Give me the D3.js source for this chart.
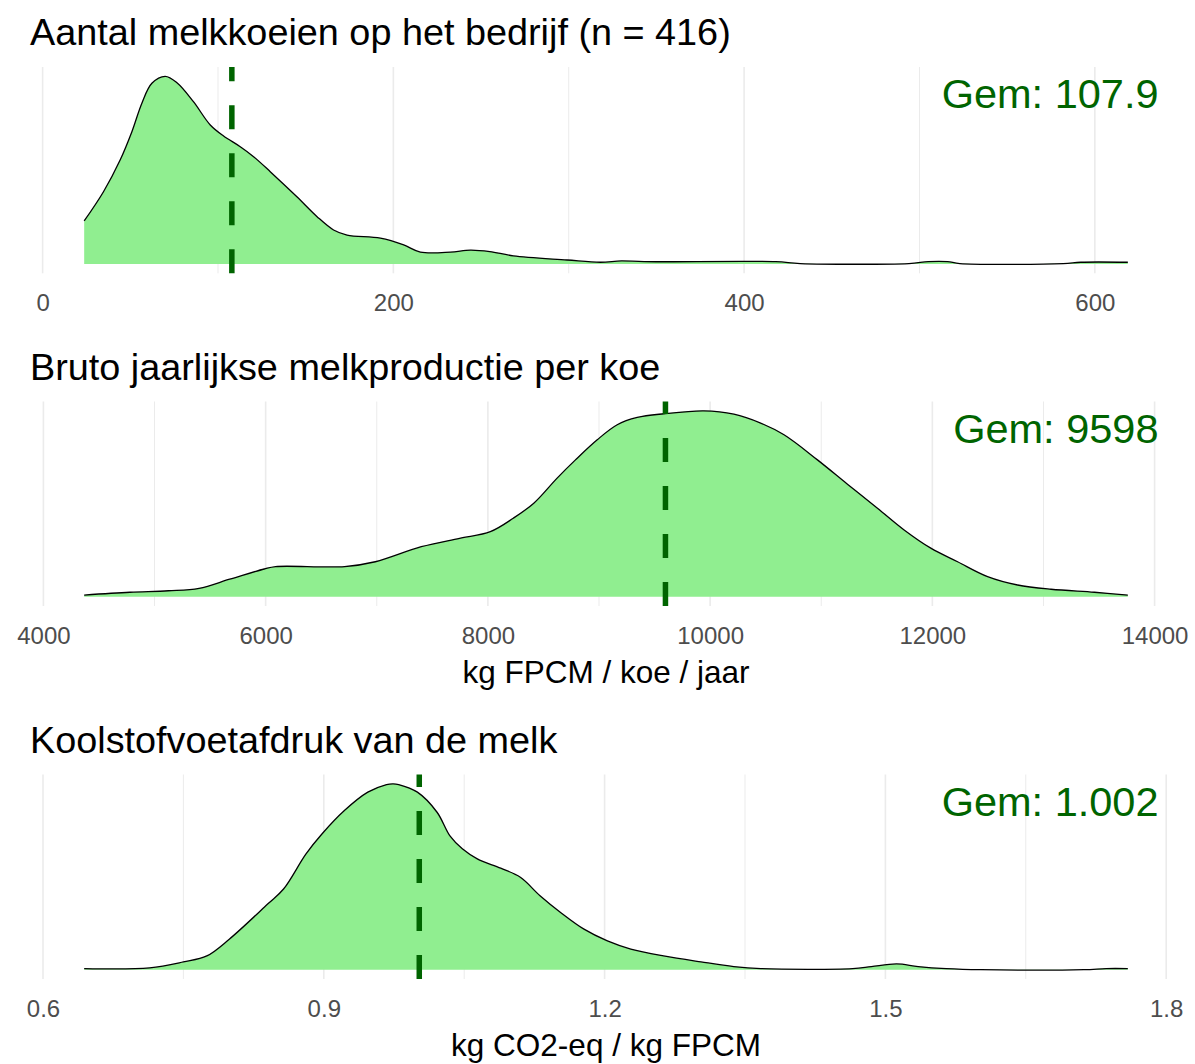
<!DOCTYPE html>
<html>
<head>
<meta charset="utf-8">
<title>melkvee dichtheden</title>
<script src="https://cdn.jsdelivr.net/npm/d3@7"></script>
<style>
body{ margin:0; background:#fff; }
svg{ display:block; font-family:"Liberation Sans", Arial, sans-serif; }
.grid line{ stroke:#EBEBEB; }
.tick text{ fill:#4D4D4D; font-size:24px; }
.ptitle{ font-size:37.8px; fill:#000; }
.xtitle{ font-size:31.5px; fill:#000; text-anchor:middle; }
.gem{ font-size:41.5px; fill:#006400; text-anchor:end; }
.dens{ fill:#90EE90; }
.outline{ fill:none; stroke:#000; stroke-width:1.3; }
.meanline{ stroke:#006400; stroke-width:5.5; stroke-dasharray:24,24; }
</style>
</head>
<body>
<svg id="chart"></svg>
<script>
// ---- data (density scaled so the peak = 1) ----
var titles = ["Aantal melkkoeien op het bedrijf (n = 416)",
	"Bruto jaarlijkse melkproductie per koe",
	"Koolstofvoetafdruk van de melk"];
var xTitles = [null, "kg FPCM / koe / jaar", "kg CO2-eq / kg FPCM"];

var cowsX = [23.7, 34.7, 44.2, 50.9, 56.6, 62.3, 69.9, 76.6, 86.0, 95.6, 103.2, 112.7, 120.3, 129.8, 145.0, 156.5, 165.9, 173.6, 192.6, 205.9, 215.4, 232.5, 243.9, 255, 268.4, 299, 318, 330, 343, 418, 432, 494, 505, 516, 523, 582, 592, 618.8];
var cowsDens = [0.229, 0.385, 0.554, 0.705, 0.857, 0.963, 1.0, 0.966, 0.865, 0.741, 0.682, 0.625, 0.572, 0.492, 0.358, 0.252, 0.181, 0.154, 0.137, 0.101, 0.063, 0.063, 0.074, 0.066, 0.043, 0.021, 0.009, 0.016, 0.012, 0.012, 0.002, 0.002, 0.012, 0.012, 0.002, 0.002, 0.009, 0.009];
var cowsMean = 107.9;
var cowsTicks = [0, 200, 400, 600];
var cowsTickLabels = ["0", "200", "400", "600"];
var cowsMinor = [100, 300, 500];

var milkX = [4367, 4779, 5125, 5401, 5677, 5987, 6090, 6711, 6987, 7401, 7745, 8022, 8228, 8413, 8623, 8788, 8984, 9164, 9344, 9584, 9944, 10214, 10455, 10665, 10966, 11236, 11506, 11746, 11986, 12227, 12497, 12767, 13068, 13458, 13759];
var milkDens = [0.009, 0.024, 0.032, 0.045, 0.094, 0.149, 0.162, 0.162, 0.188, 0.269, 0.314, 0.350, 0.422, 0.503, 0.638, 0.736, 0.844, 0.925, 0.964, 0.984, 1.0, 0.982, 0.934, 0.871, 0.736, 0.605, 0.476, 0.359, 0.261, 0.188, 0.108, 0.063, 0.040, 0.024, 0.009];
var milkMean = 9598;
var milkTicks = [4000, 6000, 8000, 10000, 12000, 14000];
var milkTickLabels = ["4000", "6000", "8000", "10000", "12000", "14000"];
var milkMinor = [5000, 7000, 9000, 11000, 13000];

var co2X = [0.644, 0.714, 0.750, 0.775, 0.799, 0.840, 0.857, 0.881, 0.898, 0.922, 0.947, 0.967, 0.974, 0.980, 1.000, 1.021, 1.035, 1.048, 1.064, 1.089, 1.110, 1.131, 1.153, 1.178, 1.203, 1.228, 1.263, 1.303, 1.338, 1.367, 1.465, 1.485, 1.512, 1.535, 1.565, 1.602, 1.712, 1.736, 1.759];
var co2Dens = [0.006, 0.010, 0.042, 0.074, 0.164, 0.353, 0.434, 0.623, 0.730, 0.856, 0.955, 0.996, 1.0, 0.996, 0.955, 0.847, 0.718, 0.650, 0.596, 0.546, 0.497, 0.398, 0.308, 0.218, 0.155, 0.111, 0.074, 0.042, 0.017, 0.006, 0.006, 0.017, 0.031, 0.017, 0.006, 0.0, 0.0, 0.006, 0.006];
var co2Mean = 1.002;
var co2Ticks = [0.6, 0.9, 1.2, 1.5, 1.8];
var co2TickLabels = ["0.6", "0.9", "1.2", "1.5", "1.8"];
var co2Minor = [0.75, 1.05, 1.35, 1.65];

var meanLabels = ["Gem: 107.9", "Gem: 9598", "Gem: 1.002"];

// ---- layout ----
var width = 1195, height = 1064;
var left = 32, right = 1180;
var panelTops = [67, 401.5, 774.5],
	panelBottoms = [273.3, 606, 979];

var panels = [
	{xs: cowsX, ys: cowsDens, mean: cowsMean, ticks: cowsTicks, labels: cowsTickLabels, minor: cowsMinor},
	{xs: milkX, ys: milkDens, mean: milkMean, ticks: milkTicks, labels: milkTickLabels, minor: milkMinor},
	{xs: co2X, ys: co2Dens, mean: co2Mean, ticks: co2Ticks, labels: co2TickLabels, minor: co2Minor}
];

var svg = d3.select("#chart")
	.attr("width", width)
	.attr("height", height);

panels.forEach(function(p, i){
	var top = panelTops[i], bottom = panelBottoms[i];

	// ggplot style: 5% expansion on both ends
	var xmin = d3.min(p.xs), xmax = d3.max(p.xs), pad = (xmax - xmin) * 0.05;
	var x = d3.scaleLinear().domain([xmin - pad, xmax + pad]).range([left, right]);
	var ymax = d3.max(p.ys);
	var y = d3.scaleLinear().domain([-0.05 * ymax, 1.05 * ymax]).range([bottom, top]);

	var g = svg.append("g");

	// grid lines (minor first, then major)
	var grid = g.append("g").attr("class", "grid");
	grid.selectAll(".minor").data(p.minor).enter().append("line")
		.attr("class", "minor")
		.attr("x1", function(d){ return x(d); })
		.attr("x2", function(d){ return x(d); })
		.attr("y1", top).attr("y2", bottom)
		.attr("stroke-width", 1);
	grid.selectAll(".major").data(p.ticks).enter().append("line")
		.attr("class", "major")
		.attr("x1", function(d){ return x(d); })
		.attr("x2", function(d){ return x(d); })
		.attr("y1", top).attr("y2", bottom)
		.attr("stroke-width", 1.6);

	var pts = p.xs.map(function(d, k){ return [d, p.ys[k]]; });

	// clamp so the spline never dips under the baseline
	var yv = function(d){ return Math.min(y(0), y(d[1])); };

	var area = d3.area()
		.x(function(d){ return x(d[0]); })
		.y0(y(0))
		.y1(function(d){ return y(d[1]); })
		.curve(d3.curveCatmullRom.alpha(0.5));
	var line = d3.line()
		.x(function(d){ return x(d[0]); })
		.y(function(d){ return y(d[1]); })
		.curve(d3.curveCatmullRom.alpha(0.5));

	g.append("path").datum(pts).attr("class", "dens").attr("d", area);
	g.append("path").datum(pts).attr("class", "outline").attr("d", line);

	// mean line, drawn bottom to top like ggplot
	g.append("line")
		.attr("class", "meanline")
		.attr("x1", x(p.mean)).attr("x2", x(p.mean))
		.attr("y1", bottom).attr("y2", top);

	// x axis (labels only)
	var axis = d3.axisBottom(x)
		.tickValues(p.ticks)
		.tickFormat(function(d, k){ return p.labels[k]; })
		.tickSize(0);
	var ax = g.append("g")
		.attr("transform", "translate(0," + bottom + ")")
		.call(axis);
	ax.select(".domain").remove();
	ax.selectAll("text")
		.attr("y", 38)
		.attr("dy", null)
		.style("font-family", "Liberation Sans, Arial, sans-serif");

	// titles
	g.append("text").attr("class", "ptitle")
		.attr("x", 30).attr("y", top - 22)
		.text(titles[i]);

	g.append("text").attr("class", "gem")
		.attr("x", 1158.5).attr("y", top + 41)
		.text(meanLabels[i]);

	if(xTitles[i]){
		g.append("text").attr("class", "xtitle")
			.attr("x", (left + right) / 2).attr("y", bottom + 77)
			.text(xTitles[i]);
	}
});
</script>
</body>
</html>
